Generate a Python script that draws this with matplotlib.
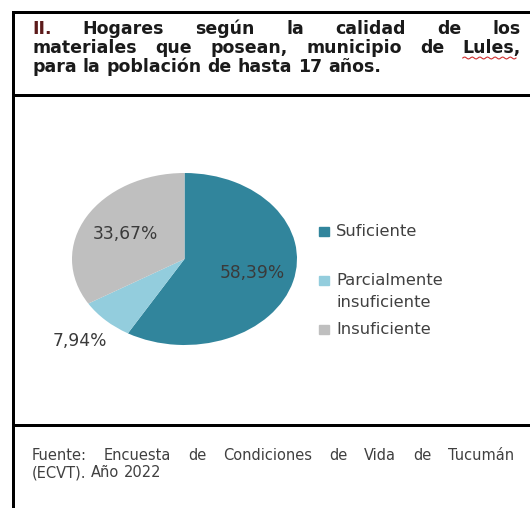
import matplotlib
matplotlib.use('Agg')
import matplotlib.pyplot as plt
from matplotlib.lines import Line2D
from matplotlib.patches import Rectangle
import numpy as np

W, H = 530, 508

categorias = ['Suficiente', 'Parcialmente\ninsuficiente', 'Insuficiente']
valores = [58.39, 7.94, 33.67]
etiquetas = ['58,39%', '7,94%', '33,67%']
colores = ['#31859C', '#93CDDD', '#BFBFBF']

titulo = ['II. Hogares según la calidad de los',
          'materiales que posean, municipio de Lules,',
          'para la población de hasta 17 años.']
fuente = ['Fuente: Encuesta de Condiciones de Vida de Tucumán',
          '(ECVT). Año 2022']


def px(x, y):
    return x / W, 1 - y / H


def caja(fig, x0, y0, x1, y1):
    # rectangulo relleno en pixeles (x0,y0 arriba-izquierda)
    fig.add_artist(Rectangle((x0 / W, 1 - y1 / H), (x1 - x0) / W, (y1 - y0) / H,
                             facecolor='black', edgecolor='none',
                             transform=fig.transFigure))


def justified(fig, line, x0, x1, y, justify, **kw):
    r = fig.canvas.get_renderer()
    words = line.split(' ')
    texts = []
    for w in words:
        t = fig.text(0, 0, w, va='baseline', ha='left', **kw)
        texts.append(t)
    widths = [t.get_window_extent(r).width for t in texts]
    if justify and len(words) > 1:
        gap = (x1 - x0 - sum(widths)) / (len(words) - 1)
    else:
        sp = fig.text(0, 0, 'a a', **kw)
        sp2 = fig.text(0, 0, 'aa', **kw)
        gap = sp.get_window_extent(r).width - sp2.get_window_extent(r).width
        sp.remove()
        sp2.remove()
    x = x0
    for t, w in zip(texts, widths):
        t.set_position(px(x, y))
        x += w + gap
    return texts


fig = plt.figure(figsize=(W / 100, H / 100), dpi=100)
fig.patch.set_facecolor('white')

# marco
caja(fig, 12, 11, 15, 508)
caja(fig, 12, 11, 530, 14)
caja(fig, 12, 94, 530, 97)
caja(fig, 12, 424, 530, 427)

# titulo
tkw = dict(fontsize=12.5, fontweight='bold', family='DejaVu Sans', color='#1a1a1a')
l1 = justified(fig, titulo[0], 32, 521, 34, True, **tkw)
l1[0].set_color('#5c1a1a')
l2 = justified(fig, titulo[1], 32, 521, 53, True, **tkw)
justified(fig, titulo[2], 32, 521, 72, False, **tkw)

# subrayado ondulado bajo "Lules,"
r = fig.canvas.get_renderer()
bb = l2[-1].get_window_extent(r)
xs = np.linspace(bb.x0, bb.x1 - 5, 40)
ys = bb.y0 - 1.0 + 1.0 * np.sin(np.linspace(0, 14 * np.pi, 40))
fig.add_artist(Line2D(xs / W, ys / H, color='#d03030', lw=0.8,
                      transform=fig.transFigure))

# fuente
skw = dict(fontsize=10.5, family='DejaVu Sans', color='#404040')
justified(fig, fuente[0], 32, 514, 460, True, **skw)
justified(fig, fuente[1], 32, 514, 477, False, **skw)

# torta
left, right, top, bottom = 72, 297, 173, 345
ax = fig.add_axes([left / W, 1 - bottom / H, (right - left) / W, (bottom - top) / H])
wedges, _ = ax.pie(valores, colors=colores, startangle=90, counterclock=False,
                   wedgeprops=dict(linewidth=0))
ax.set_aspect('auto')
ax.set_xlim(-1, 1)
ax.set_ylim(-1, 1)
ax.axis('off')

dist = [0.62, 1.33, 0.6]
for w, lab, d in zip(wedges, etiquetas, dist):
    ang = np.radians((w.theta1 + w.theta2) / 2)
    ax.text(d * np.cos(ang), d * np.sin(ang), lab, ha='center', va='center',
            fontsize=12.3, family='DejaVu Sans', color='#3a3a3a', clip_on=False)

# leyenda
ley_y = [236, 285, 334]
for c, lab, y in zip(colores, categorias, ley_y):
    fig.add_artist(Rectangle(px(319, y), 10 / W, 9 / H, color=c,
                             transform=fig.transFigure))
    for i, parte in enumerate(lab.split('\n')):
        fig.text(*px(336, y + 22 * i), parte, ha='left', va='baseline',
                 fontsize=11.8, family='DejaVu Sans', color='#404040')

fig.savefig('out.png', dpi=100)
